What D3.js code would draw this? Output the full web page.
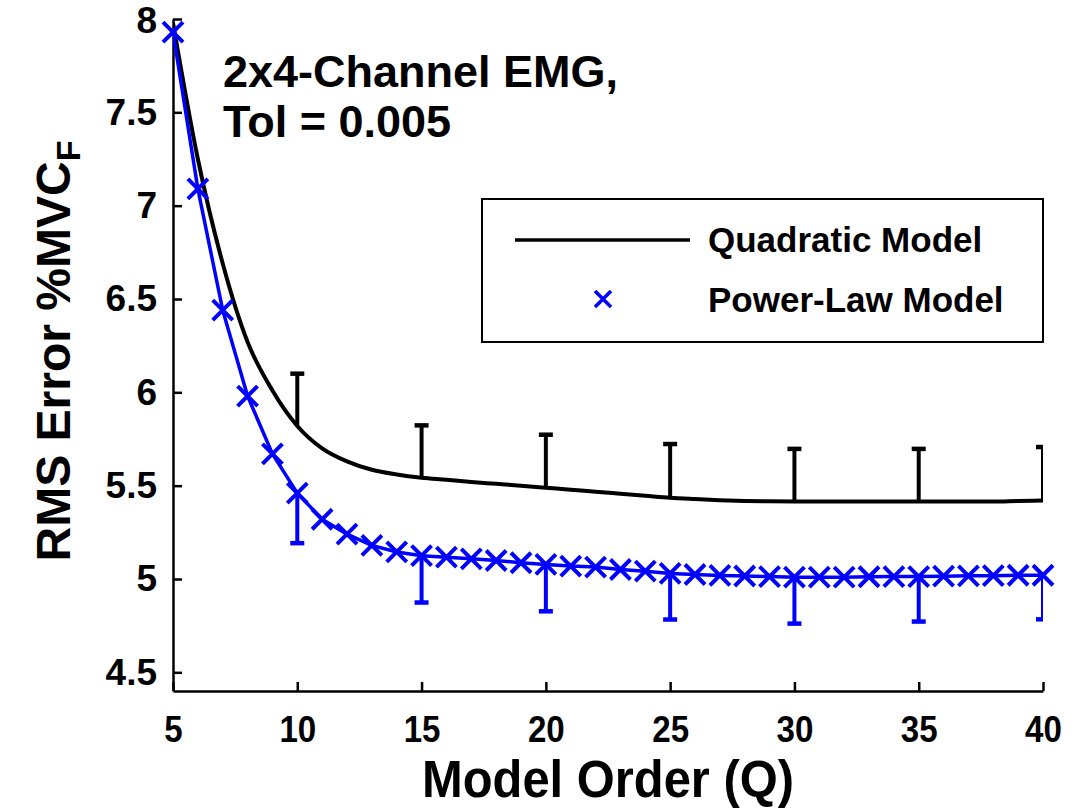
<!DOCTYPE html>
<html>
<head>
<meta charset="utf-8">
<script src="https://cdn.jsdelivr.net/npm/d3@7"></script>
<style>
  html, body { margin: 0; padding: 0; background: #fff; }
  svg { display: block; }
  text { font-family: "Liberation Sans", Arial, sans-serif; font-weight: bold; fill: #000; }
</style>
</head>
<body>
<svg id="chart" width="1075" height="811"></svg>
<script>
// Model order Q (x) and mean RMS error (% MVC_F) for each model
const modelOrder = d3.range(5, 41);

const quadraticRms = [
  7.98, 7.25, 6.69, 6.27, 6.01, 5.82, 5.70, 5.63, 5.585, 5.56,
  5.543, 5.532, 5.52, 5.51, 5.50, 5.489, 5.478, 5.468, 5.457, 5.446,
  5.435, 5.428, 5.422, 5.418, 5.416, 5.415, 5.415, 5.415, 5.415, 5.415,
  5.415, 5.415, 5.415, 5.415, 5.418, 5.42
];

const powerLawRms = [
  7.93, 7.09, 6.44, 5.98, 5.67, 5.46, 5.32, 5.24, 5.18, 5.145,
  5.125, 5.117, 5.108, 5.099, 5.087, 5.078, 5.069, 5.064, 5.051, 5.042,
  5.03, 5.024, 5.019, 5.016, 5.013, 5.01, 5.01, 5.01, 5.012, 5.013,
  5.013, 5.015, 5.017, 5.018, 5.02, 5.02
];

// One-sided error bars every 5 orders: upward for quadratic, downward for power-law
const errorOrders = [10, 15, 20, 25, 30, 35, 40];
const quadraticErr = [0.28, 0.28, 0.284, 0.288, 0.282, 0.282, 0.287];
const powerLawErr  = [0.268, 0.251, 0.251, 0.247, 0.249, 0.241, 0.236];

const xTicks = [5, 10, 15, 20, 25, 30, 35, 40];
const yTicks = [4.5, 5, 5.5, 6, 6.5, 7, 7.5, 8];

const seriesNames = ["Quadratic Model", "Power-Law Model"];
const noteLines = ["2x4-Channel EMG,", "Tol = 0.005"];

const BLUE = "#0000ff";

const svg = d3.select("#chart");
const plot = { left: 173, right: 1043, top: 19, bottom: 691 };

const x = d3.scaleLinear().domain([5, 40]).range([plot.left, plot.right]);
const y = d3.scaleLinear().domain([4.4, 8]).range([plot.bottom, plot.top]);

svg.append("defs").append("clipPath").attr("id", "plotClip")
  .append("rect")
  .attr("x", plot.left).attr("y", plot.top - 20)
  .attr("width", plot.right - plot.left).attr("height", plot.bottom - plot.top + 20);

// Axes with inward ticks
const xAxis = d3.axisBottom(x).tickValues(xTicks).tickSizeInner(-9).tickSizeOuter(0)
  .tickFormat(d3.format("d"));
const yAxis = d3.axisLeft(y).tickValues(yTicks).tickSizeInner(-9).tickSizeOuter(0)
  .tickFormat(d => String(d));

const gx = svg.append("g").attr("transform", `translate(0,${plot.bottom})`).call(xAxis);
const gy = svg.append("g").attr("transform", `translate(${plot.left},0)`).call(yAxis);

[gx, gy].forEach(g => {
  g.select(".domain").attr("stroke", "#000").attr("stroke-width", 2.5);
  g.selectAll(".tick line").attr("stroke", "#000").attr("stroke-width", 2.5);
  g.selectAll(".tick text").attr("font-weight", "bold")
    .attr("font-family", "Liberation Sans, Arial, sans-serif").attr("fill", "#000");
});
gy.selectAll(".tick text").attr("font-size", 37).attr("x", -16);
// keep the top label fully inside the canvas
gy.selectAll(".tick text").filter(d => d === 8).attr("dy", "0.36em");

// x tick labels: slightly condensed, baseline near y = 742
gx.selectAll(".tick text")
  .attr("font-size", 36)
  .attr("dy", null).attr("y", null)
  .attr("transform", "translate(0,51) scale(0.92,1.05)");

// Axis titles
const cx = (plot.left + plot.right) / 2;
svg.append("text")
  .attr("x", cx)
  .attr("y", 797)
  .attr("text-anchor", "middle")
  .attr("font-size", 52)
  .attr("transform", `translate(${cx * 0.06},0) scale(0.94,1)`)
  .text("Model Order (Q)");

const yTitle = svg.append("text")
  .attr("transform", `translate(70,${(plot.top + plot.bottom) / 2 - 4}) rotate(-90)`)
  .attr("text-anchor", "middle")
  .attr("font-size", 48);
yTitle.append("tspan").text("RMS Error %MVC");
yTitle.append("tspan").attr("font-size", 34).attr("dy", 10).text("F");

const clipped = svg.append("g").attr("clip-path", "url(#plotClip)");

// Quadratic model: mean curve and upward error bars
clipped.append("path")
  .datum(quadraticRms)
  .attr("d", d3.line().x((d, i) => x(modelOrder[i])).y(d => y(d)).curve(d3.curveMonotoneX))
  .attr("fill", "none")
  .attr("stroke", "#000")
  .attr("stroke-width", 4)
  .attr("stroke-linejoin", "round");

const capHalf = 7;
function drawErrorBars(g, means, errs, sign, color) {
  const data = errorOrders.map((q, i) => ({
    q, mean: means[modelOrder.indexOf(q)], end: means[modelOrder.indexOf(q)] + sign * errs[i]
  }));
  const grp = g.append("g").attr("stroke", color).attr("stroke-width", 4);
  grp.selectAll("line.stem").data(data).join("line").attr("class", "stem")
    .attr("x1", d => x(d.q)).attr("x2", d => x(d.q))
    .attr("y1", d => y(d.mean)).attr("y2", d => y(d.end));
  grp.selectAll("line.cap").data(data).join("line").attr("class", "cap")
    .attr("x1", d => x(d.q) - capHalf).attr("x2", d => x(d.q) + capHalf)
    .attr("y1", d => y(d.end)).attr("y2", d => y(d.end))
    .attr("stroke-width", 4.5);
}
drawErrorBars(clipped, quadraticRms, quadraticErr, +1, "#000");

// Power-law model: line, error bars and x markers
clipped.append("path")
  .datum(powerLawRms)
  .attr("d", d3.line().x((d, i) => x(modelOrder[i])).y(d => y(d)))
  .attr("fill", "none")
  .attr("stroke", BLUE)
  .attr("stroke-width", 3.5)
  .attr("stroke-linejoin", "round");
drawErrorBars(clipped, powerLawRms, powerLawErr, -1, BLUE);

const mk = 10;
function crossPath(px, py, s) {
  return `M${px - s},${py - s}L${px + s},${py + s}M${px - s},${py + s}L${px + s},${py - s}`;
}
svg.append("g").selectAll("path").data(powerLawRms).join("path")
  .attr("d", (d, i) => crossPath(x(modelOrder[i]), y(d), mk))
  .attr("stroke", BLUE)
  .attr("stroke-width", 4)
  .attr("fill", "none");

// Annotation
svg.append("text").attr("x", 223).attr("y", 87).attr("font-size", 45).text(noteLines[0]);
svg.append("text").attr("x", 223).attr("y", 137).attr("font-size", 45).text(noteLines[1]);

// Legend
const legend = svg.append("g");
legend.append("rect")
  .attr("x", 482).attr("y", 199).attr("width", 561).attr("height", 143)
  .attr("fill", "#fff").attr("stroke", "#000").attr("stroke-width", 2);
legend.append("line")
  .attr("x1", 515).attr("x2", 690).attr("y1", 240).attr("y2", 240)
  .attr("stroke", "#000").attr("stroke-width", 3.5);
legend.append("path")
  .attr("d", crossPath(603, 299, 8))
  .attr("stroke", BLUE).attr("stroke-width", 3.5).attr("fill", "none");
legend.append("text").attr("x", 708).attr("y", 252).attr("font-size", 35).text(seriesNames[0]);
legend.append("text").attr("x", 708).attr("y", 312).attr("font-size", 35).text(seriesNames[1]);
</script>
</body>
</html>
